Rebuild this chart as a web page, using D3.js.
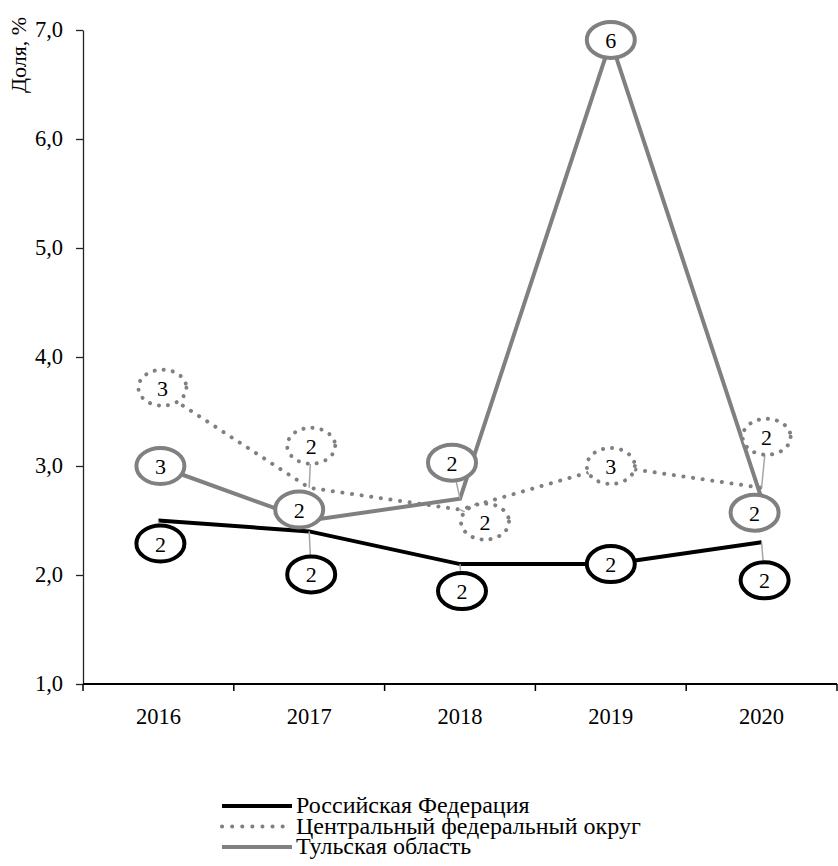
<!DOCTYPE html>
<html>
<head>
<meta charset="utf-8">
<script src="https://cdn.jsdelivr.net/npm/d3@7"></script>
<style>
  html, body { margin: 0; padding: 0; background: #fff; }
  svg { display: block; }
  svg text { font-family: "Liberation Serif", "Times New Roman", Times, serif; }
</style>
</head>
<body>
<svg id="chart" width="838" height="866"></svg>
<script>
// Годы наблюдения
const years = ["2016", "2017", "2018", "2019", "2020"];

// Доля, % по каждому ряду
const russia = [2.5, 2.4, 2.1, 2.1, 2.3];
const central = [3.7, 2.8, 2.6, 3.0, 2.8];
const tula = [3.0, 2.5, 2.7, 6.9, 2.7];

const seriesNames = ["Российская Федерация", "Центральный федеральный округ", "Тульская область"];

// Деления вертикальной оси
const yTicks = [1, 2, 3, 4, 5, 6, 7];

// Смещения подписей относительно точек (пиксели)
const russiaLabelOffset = [[2, 23], [2, 43], [2, 27], [0, 0], [3, 38]];
const centralLabelOffset = [[4, -2], [2, -42], [25, 12], [0, 0], [5, -51]];
const tulaLabelOffset = [[2, 0], [-10, -11], [-8, -36], [0, -1], [-7, 14]];

const svg = d3.select("#chart");
const plotLeft = 83, plotRight = 837, plotTop = 30, plotBottom = 684;
const fontSize = 22.5;

const x = d3.scaleBand().domain(years).range([plotLeft, plotRight]);
const cx = d => x(d) + x.bandwidth() / 2;
const y = d3.scaleLinear().domain([1, 7]).range([plotBottom, plotTop]);

// Вертикальная ось
const yAxis = svg.append("g")
  .attr("transform", `translate(${plotLeft},0)`)
  .call(d3.axisLeft(y).tickValues(yTicks).tickSize(7).tickSizeOuter(0)
    .tickFormat(d => d.toFixed(1).replace(".", ",")));
yAxis.attr("font-family", null);
yAxis.select(".domain").attr("stroke", "#222").attr("stroke-width", 1.3);
yAxis.selectAll(".tick line").attr("stroke", "#222").attr("stroke-width", 1.3);
yAxis.selectAll(".tick text")
  .attr("font-size", fontSize).attr("fill", "#000").attr("x", -20).attr("dy", "0.3em");

// Горизонтальная ось: линия, деления на границах категорий, подписи годов
svg.append("line").attr("x1", plotLeft).attr("x2", plotRight).attr("y1", plotBottom).attr("y2", plotBottom)
  .attr("stroke", "#000").attr("stroke-width", 2.2);
const boundaries = years.map(d => x(d)).concat([x.range()[1]]);
svg.selectAll(".xtick").data(boundaries).join("line")
  .attr("x1", d => d).attr("x2", d => d).attr("y1", plotBottom).attr("y2", plotBottom + 7)
  .attr("stroke", "#000").attr("stroke-width", 1.5);
svg.selectAll(".xlab").data(years).join("text")
  .attr("x", d => cx(d)).attr("y", plotBottom + 40)
  .attr("text-anchor", "middle").attr("font-size", fontSize).text(d => d);

// Подпись оси
svg.append("text")
  .attr("transform", "translate(26,93) rotate(-90)")
  .attr("font-size", 22).text("Доля, %");

const series = [
  { name: seriesNames[0], values: russia, off: russiaLabelOffset, color: "#000", dash: null },
  { name: seriesNames[1], values: central, off: centralLabelOffset, color: "#808080", dash: "0.1 9.6" },
  { name: seriesNames[2], values: tula, off: tulaLabelOffset, color: "#808080", dash: null }
];

const line = d3.line().x((v, i) => cx(years[i])).y(v => y(v));

// Линии рядов
series.forEach(s => {
  svg.append("path").datum(s.values)
    .attr("d", line).attr("fill", "none")
    .attr("stroke", s.color).attr("stroke-width", 4)
    .attr("stroke-linecap", s.dash ? "round" : "butt")
    .attr("stroke-linejoin", "miter")
    .attr("stroke-dasharray", s.dash);
});

// Подписи значений в эллипсах с выносками
const rx = 24, ry = 18;
const labelLayer = svg.append("g");
series.forEach(s => {
  s.values.forEach((v, i) => {
    const px = cx(years[i]), py = y(v);
    const lx = px + s.off[i][0], ly = py + s.off[i][1];
    const dist = Math.hypot(lx - px, ly - py);
    if (dist > 20) {
      const dx = px - lx, dy = py - ly;
      const t = 1 / Math.sqrt((dx * dx) / (rx * rx) + (dy * dy) / (ry * ry));
      labelLayer.append("line")
        .attr("x1", lx + dx * t).attr("y1", ly + dy * t)
        .attr("x2", px).attr("y2", py)
        .attr("stroke", "#a6a6a6").attr("stroke-width", 1.5);
    }
    labelLayer.append("ellipse")
      .attr("cx", lx).attr("cy", ly).attr("rx", rx).attr("ry", ry)
      .attr("fill", "#fff").attr("stroke", s.color).attr("stroke-width", 4)
      .attr("stroke-linecap", s.dash ? "round" : "butt")
      .attr("stroke-dasharray", s.dash ? "0.1 9" : null);
    labelLayer.append("text")
      .attr("x", lx).attr("y", ly + 8)
      .attr("text-anchor", "middle").attr("font-size", 22)
      .text(Math.floor(v));
  });
});

// Легенда
const legend = svg.append("g").attr("transform", "translate(222,806)");
series.forEach((s, i) => {
  const g = legend.append("g").attr("transform", `translate(0,${i * 20.5})`);
  g.append("line").attr("x1", 0).attr("x2", 70).attr("y1", 0).attr("y2", 0)
    .attr("stroke", s.color).attr("stroke-width", 4)
    .attr("stroke-linecap", s.dash ? "round" : "butt")
    .attr("stroke-dasharray", s.dash ? "0.1 10" : null);
  g.append("text").attr("x", 74).attr("y", 7).attr("font-size", 24).text(s.name);
});
</script>
</body>
</html>
